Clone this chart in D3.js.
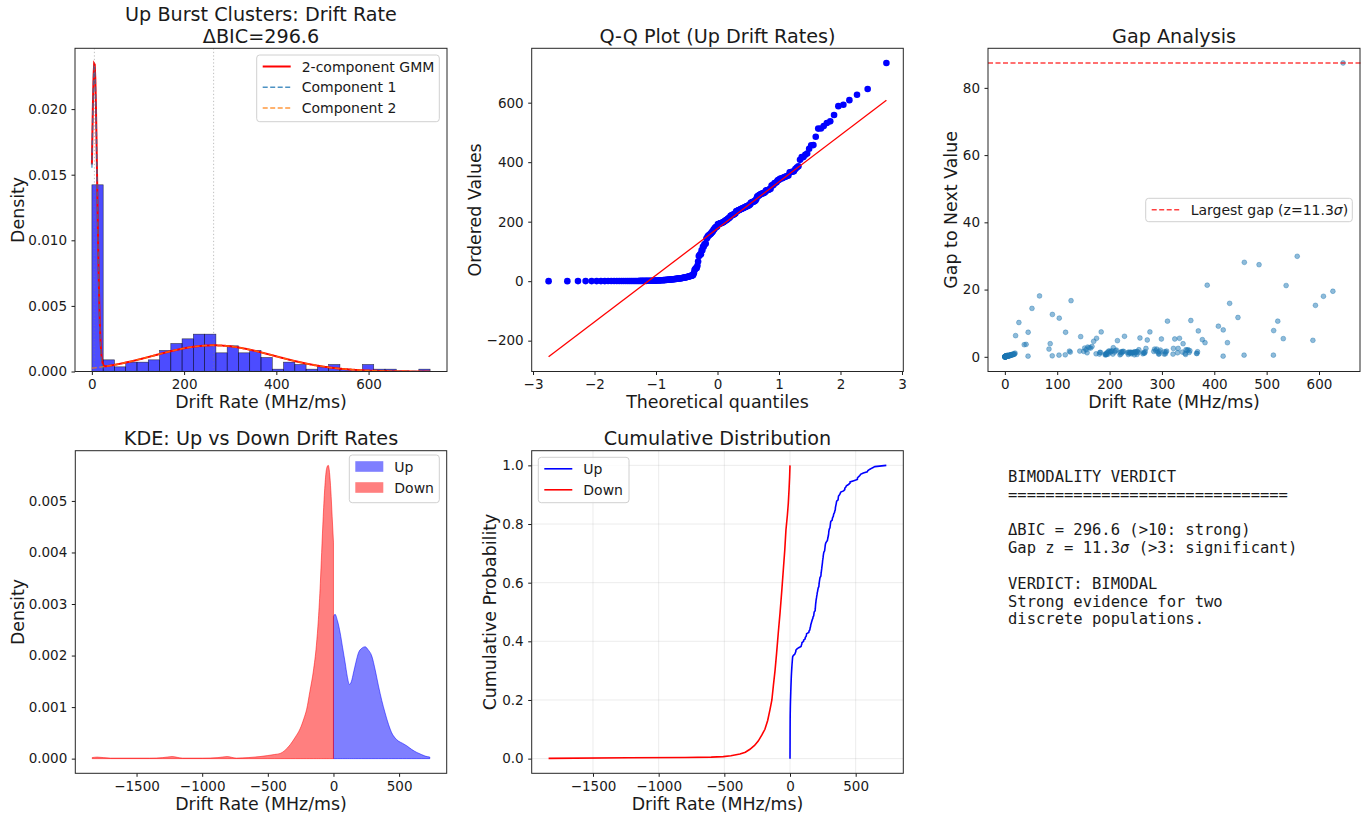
<!DOCTYPE html>
<html>
<head>
<meta charset="utf-8">
<script src="https://cdn.jsdelivr.net/npm/d3@7"></script>
<style>
  body { margin: 0; background: #fff; }
  svg { font-family: "DejaVu Sans", sans-serif; }
</style>
</head>
<body>
<svg width="1372" height="816"></svg>
<script>
// ---- data ----
// up-drift burst rates, sorted (MHz/ms)
const upDrift = [
  0.1, 0.1, 0.2, 0.2, 0.2, 0.3, 0.3, 0.3, 0.4, 0.4,
  0.4, 0.5, 0.5, 0.5, 0.6, 0.6, 0.6, 0.7, 0.7, 0.7,
  0.8, 0.8, 0.8, 0.9, 0.9, 1.0, 1.0, 1.1, 1.1, 1.2,
  1.2, 1.3, 1.4, 1.5, 1.7, 1.8, 2.0, 2.2, 2.3, 2.5,
  2.7, 2.9, 3.1, 3.4, 3.6, 3.9, 4.2, 4.6, 4.8, 5.1,
  5.5, 5.7, 6.0, 6.4, 6.7, 7.0, 7.3, 7.7, 8.0, 8.4,
  8.8, 9.1, 9.5, 9.9, 10.3, 10.8, 11.3, 11.9, 12.4, 13.0,
  13.6, 14.2, 14.9, 15.5, 16.3, 17.0, 17.8, 18.6, 19.4, 20.5,
  26.8, 37.0, 40.6, 44.3, 44.5,
  51.8, 66.2,
  84.3, 86.6, 90.5, 90.8,
  103.4, 103.9, 115.4, 116.0,
  123.3, 125.0, 126.4, 143.1, 144.8,
  150.8, 152.4, 155.0, 157.1, 158.3, 161.2, 163.9, 166.5, 169.6,
  174.2, 175.1, 180.6, 181.4, 182.7, 184.0, 191.4, 192.0, 192.9, 193.5, 194.3, 195.0,
  196.1, 197.4, 198.2, 199.9, 201.6, 203.0, 204.5, 206.3, 207.1, 209.8, 211.2, 213.0, 215.0, 219.8,
  220.4, 221.7, 222.5, 224.0, 225.3, 226.9, 228.5, 234.6, 235.8, 236.5, 237.9, 239.0, 240.2, 241.6, 242.5, 243.7,
  245.0, 246.2, 247.5, 248.1, 249.6, 250.8, 252.3, 253.0, 254.6, 255.9, 258.0, 263.6, 264.5, 265.8, 266.9, 268.0,
  269.5, 272.0, 277.0, 284.4, 286.0, 288.3, 290.1, 292.4,
  293.8, 294.6, 295.5, 297.0, 299.0, 304.3, 305.1, 306.6, 307.5, 308.9, 310.6,
  321.2, 322.0, 324.5, 329.8, 331.0, 333.5, 339.0, 340.4,
  344.3, 345.3, 346.0, 348.1, 350.0, 352.1, 353.4, 355.2, 366.0,
  367.0, 368.0, 369.5, 377.2, 382.3, 386.5,
  407.8, 416.9, 417.1, 425.1, 429.3, 445.2, 456.9, 457.4, 485.5, 512.9,
  513.4, 521.2, 531.8, 537.2, 558.4, 588.3, 593.2, 608.5, 626.5, 646.0, 733.4
];
const histBinCount = 30;

// 2-component GMM fit
const gmmWeights = [0.35, 0.65];
const gmmMeans = [5.5, 264];
const gmmSds = [6.0, 130];

// Q-Q reference line [slope, intercept]
const qqLine = [157, 177];

// KDE curves [drift, density]
const kdeUp = [
  [0, 0.00276], [12, 0.0028], [30, 0.00268], [51, 0.00244], [70, 0.00215], [89, 0.00186],
  [105, 0.0016], [122, 0.00144], [137, 0.0015], [152, 0.00166], [170, 0.00186], [190, 0.00205],
  [215, 0.00214], [241, 0.00217], [265, 0.00211], [292, 0.00199], [318, 0.00172], [343, 0.00141],
  [368, 0.00113], [393, 0.00089], [420, 0.00066], [444, 0.0005], [470, 0.0004], [495, 0.00034],
  [525, 0.0003], [558, 0.00025], [595, 0.00018], [635, 0.00012], [670, 0.00008], [698, 0.00005], [734, 0.00003]
];
const kdeDown = [
  [-1838, 0.00002], [-1800, 0.00003], [-1700, 0.00001], [-1400, 0.00001], [-1300, 0.00002],
  [-1230, 0.00004], [-1150, 0.00001], [-1000, 0.00001], [-880, 0.00002], [-810, 0.00004],
  [-740, 0.00001], [-650, 0.00002], [-560, 0.00004], [-500, 0.00006], [-450, 0.00008],
  [-406, 0.0001], [-370, 0.00016], [-330, 0.00027], [-290, 0.00042], [-254, 0.00058],
  [-225, 0.00078], [-204, 0.00096], [-180, 0.0013], [-153, 0.0017], [-130, 0.0022],
  [-115, 0.0027], [-100, 0.0034], [-90, 0.004], [-78, 0.0047], [-65, 0.0053],
  [-52, 0.00563], [-40, 0.00569], [-30, 0.00555], [-20, 0.0052], [-10, 0.0047], [0, 0.0042]
];

// down-drift empirical CDF [drift, probability]
const cdfDown = [
  [-1838, 0.001], [-1230, 0.003], [-800, 0.004], [-600, 0.005], [-508, 0.007], [-450, 0.01],
  [-381, 0.016], [-340, 0.022], [-305, 0.032], [-270, 0.045], [-242, 0.06], [-215, 0.08],
  [-191, 0.1], [-170, 0.13], [-152, 0.168], [-138, 0.2], [-127, 0.247], [-114, 0.3],
  [-102, 0.36], [-89, 0.43], [-76, 0.496], [-63, 0.57], [-51, 0.643], [-40, 0.71],
  [-31, 0.779], [-20, 0.83], [-13, 0.87], [-7, 0.92], [-3, 0.96], [0, 1.0]
];

const verdictLines = [
  "BIMODALITY VERDICT",
  "==============================",
  "",
  "ΔBIC = 296.6 (>10: strong)",
  "Gap z = 11.3σ (>3: significant)",
  "",
  "VERDICT: BIMODAL",
  "Strong evidence for two",
  "discrete populations."
];

// ---- helpers ----
const svg = d3.select("svg");
svg.append("rect").attr("width", 1372).attr("height", 816).attr("fill", "#fff");
const ink = "#1a1a1a";
let clipCount = 0;

function pad(lo, hi) { const m = (hi - lo) * 0.05; return [lo - m, hi + m]; }

// inverse normal cdf (Acklam)
function probit(p) {
  const a = [-39.69683028665376, 220.9460984245205, -275.9285104469687, 138.357751867269, -30.66479806614716, 2.506628277459239];
  const b = [-54.47609879822406, 161.5858368580409, -155.6989798598866, 66.80131188771972, -13.28068155288572];
  const c = [-0.007784894002430293, -0.3223964580411365, -2.400758277161838, -2.549732539343734, 4.374664141464968, 2.938163982698783];
  const d = [0.007784695709041462, 0.3224671290700398, 2.445134137142996, 3.754408661907416];
  const pl = 0.02425;
  if (p < pl) {
    const q = Math.sqrt(-2 * Math.log(p));
    return (((((c[0]*q+c[1])*q+c[2])*q+c[3])*q+c[4])*q+c[5]) / ((((d[0]*q+d[1])*q+d[2])*q+d[3])*q+1);
  }
  if (p > 1 - pl) {
    const q = Math.sqrt(-2 * Math.log(1 - p));
    return -(((((c[0]*q+c[1])*q+c[2])*q+c[3])*q+c[4])*q+c[5]) / ((((d[0]*q+d[1])*q+d[2])*q+d[3])*q+1);
  }
  const q = p - 0.5, r = q * q;
  return (((((a[0]*r+a[1])*r+a[2])*r+a[3])*r+a[4])*r+a[5])*q / (((((b[0]*r+b[1])*r+b[2])*r+b[3])*r+b[4])*r+1);
}

function normPdf(x, m, s) { return Math.exp(-0.5 * ((x - m) / s) ** 2) / (s * Math.sqrt(2 * Math.PI)); }

function makePanel(box, xd, yd) {
  const x = d3.scaleLinear().domain(xd).range([box.l, box.r]);
  const y = d3.scaleLinear().domain(yd).range([box.b, box.t]);
  const id = "clip" + (clipCount++);
  svg.append("clipPath").attr("id", id).append("rect")
    .attr("x", box.l).attr("y", box.t).attr("width", box.r - box.l).attr("height", box.b - box.t);
  const g = svg.append("g");
  const plot = g.append("g").attr("clip-path", `url(#${id})`);
  return { g, plot, x, y, box };
}

function addAxes(p, xTicks, xFmt, yTicks, yFmt) {
  const { g, x, y, box } = p;
  const style = a => {
    a.select(".domain").remove();
    a.attr("font-size", 13.5).attr("font-family", "DejaVu Sans");
    a.selectAll("line").attr("stroke", ink);
    a.selectAll("text").attr("fill", ink);
  };
  g.append("g").attr("transform", `translate(0,${box.b})`)
    .call(d3.axisBottom(x).tickValues(xTicks).tickFormat(xFmt).tickSize(3.5).tickPadding(4.5)).call(style);
  g.append("g").attr("transform", `translate(${box.l},0)`)
    .call(d3.axisLeft(y).tickValues(yTicks).tickFormat(yFmt).tickSize(3.5).tickPadding(4.5)).call(style);
  g.append("rect").attr("x", box.l).attr("y", box.t)
    .attr("width", box.r - box.l).attr("height", box.b - box.t)
    .attr("fill", "none").attr("stroke", "#262626").attr("stroke-width", 1);
}

function labels(p, title, xLabel, yLabel, yLabelX) {
  const { g, box } = p;
  const cx = (box.l + box.r) / 2;
  const lines = Array.isArray(title) ? title : [title];
  lines.forEach((t, i) => {
    g.append("text").attr("x", cx).attr("y", box.t - 5.6 - (lines.length - 1 - i) * 21.5)
      .attr("text-anchor", "middle").attr("font-size", 19.2).attr("fill", ink).text(t);
  });
  g.append("text").attr("x", cx).attr("y", box.b + 36.5)
    .attr("text-anchor", "middle").attr("font-size", 17.4).attr("fill", ink).text(xLabel);
  g.append("text").attr("transform", `translate(${yLabelX},${(box.t + box.b) / 2}) rotate(-90)`)
    .attr("text-anchor", "middle").attr("font-size", 17.4).attr("fill", ink).text(yLabel);
}

function legend(g, bx, by, bw, bh, items, rowH) {
  const lg = g.append("g");
  lg.append("rect").attr("x", bx).attr("y", by).attr("width", bw).attr("height", bh)
    .attr("rx", 3).attr("fill", "#fff").attr("fill-opacity", 0.8)
    .attr("stroke", "#d0d0d0").attr("stroke-width", 1);
  items.forEach((it, i) => {
    const cy = by + 11.5 + i * rowH;
    if (it.patch) {
      lg.append("rect").attr("x", bx + 6).attr("y", cy - 5.3).attr("width", 28).attr("height", 10.6)
        .attr("fill", it.color).attr("fill-opacity", 0.5);
    } else {
      lg.append("line").attr("x1", bx + 6).attr("x2", bx + 34).attr("y1", cy).attr("y2", cy)
        .attr("stroke", it.color).attr("stroke-width", it.width || 1.5)
        .attr("stroke-dasharray", it.dash || null).attr("stroke-opacity", it.opacity || 1);
    }
    const t = lg.append("text").attr("x", bx + 45).attr("y", cy + 5).attr("font-size", 14).attr("fill", ink);
    it.label.split("σ").forEach((part, k) => {
      if (k > 0) t.append("tspan").attr("font-style", "italic").text("σ");
      t.append("tspan").text(part);
    });
  });
}

const fmt3 = d3.format(".3f"), fmt1 = d3.format(".1f"), fmt0 = d3.format("d");
const n = upDrift.length;
const upMin = d3.min(upDrift), upMax = d3.max(upDrift);

// ---- panel 1: histogram + GMM ----
{
  const width = (upMax - upMin) / histBinCount;
  const bins = d3.bin().domain([upMin, upMax])
    .thresholds(d3.range(1, histBinCount).map(k => upMin + k * width))(upDrift);
  const xs = d3.range(0, 601).map(i => upMin + i * (upMax - upMin) / 600);
  const comps = gmmWeights.map((w, k) => xs.map(v => [v, w * normPdf(v, gmmMeans[k], gmmSds[k])]));
  const total = xs.map((v, i) => [v, comps[0][i][1] + comps[1][i][1]]);
  const dens = b => b.length / (n * width);
  const yMax = Math.max(d3.max(bins, dens), d3.max(total, d => d[1]));
  const p = makePanel({ l: 75, t: 48.3, r: 447, b: 371.5 }, pad(upMin, upMax), [0, yMax * 1.05]);

  p.plot.selectAll("rect.bar").data(bins).join("rect").attr("class", "bar")
    .attr("x", d => p.x(d.x0)).attr("width", d => p.x(d.x1) - p.x(d.x0))
    .attr("y", d => p.y(dens(d))).attr("height", d => p.y(0) - p.y(dens(d)))
    .attr("fill", "#0000ff").attr("fill-opacity", 0.7)
    .attr("stroke", "#000").attr("stroke-opacity", 0.7).attr("stroke-width", 0.6);

  const line = d3.line().x(d => p.x(d[0])).y(d => p.y(d[1]));
  p.plot.append("path").attr("d", line(total)).attr("fill", "none").attr("stroke", "#ff0000").attr("stroke-width", 2);
  p.plot.append("path").attr("d", line(comps[0])).attr("fill", "none").attr("stroke", "#1f77b4")
    .attr("stroke-width", 1.5).attr("stroke-dasharray", "5,2.5").attr("stroke-opacity", 0.7);
  p.plot.append("path").attr("d", line(comps[1])).attr("fill", "none").attr("stroke", "#ff7f0e")
    .attr("stroke-width", 1.5).attr("stroke-dasharray", "5,2.5").attr("stroke-opacity", 0.7);
  gmmMeans.forEach(m => {
    p.plot.append("line").attr("x1", p.x(m)).attr("x2", p.x(m)).attr("y1", p.box.t).attr("y2", p.box.b)
      .attr("stroke", "gray").attr("stroke-opacity", 0.5).attr("stroke-dasharray", "1.3,2.2");
  });

  addAxes(p, [0, 200, 400, 600], fmt0, [0, 0.005, 0.01, 0.015, 0.02], fmt3);
  labels(p, ["Up Burst Clusters: Drift Rate", "ΔBIC=296.6"], "Drift Rate (MHz/ms)", "Density", 23.7);
  legend(p.g, 256.7, 55, 182.6, 66.7, [
    { color: "#ff0000", width: 2, label: "2-component GMM" },
    { color: "#1f77b4", dash: "5,2.5", opacity: 0.8, label: "Component 1" },
    { color: "#ff7f0e", dash: "5,2.5", opacity: 0.8, label: "Component 2" }
  ], 20.8);
}

// ---- panel 2: Q-Q plot ----
{
  const theo = upDrift.map((v, i) => {
    let m;
    if (i === n - 1) m = Math.pow(0.5, 1 / n);
    else if (i === 0) m = 1 - Math.pow(0.5, 1 / n);
    else m = (i + 1 - 0.3175) / (n + 0.365);
    return probit(m);
  });
  const qLo = d3.min(theo), qHi = d3.max(theo);
  const fitY = q => qqLine[0] * q + qqLine[1];
  const p = makePanel({ l: 531.7, t: 48.3, r: 903.3, b: 371.5 }, pad(qLo, qHi),
    pad(Math.min(upMin, fitY(qLo)), Math.max(upMax, fitY(qHi))));
  p.plot.selectAll("circle").data(upDrift).join("circle")
    .attr("cx", (d, i) => p.x(theo[i])).attr("cy", d => p.y(d)).attr("r", 3.3).attr("fill", "#0000ff");
  p.plot.append("line").attr("x1", p.x(qLo)).attr("y1", p.y(fitY(qLo)))
    .attr("x2", p.x(qHi)).attr("y2", p.y(fitY(qHi))).attr("stroke", "#ff0000").attr("stroke-width", 1.3);
  addAxes(p, [-3, -2, -1, 0, 1, 2, 3], fmt0, [-200, 0, 200, 400, 600], fmt0);
  labels(p, "Q-Q Plot (Up Drift Rates)", "Theoretical quantiles", "Ordered Values", 480.7);
}

// ---- panel 3: gap analysis ----
{
  const gaps = d3.pairs(upDrift).map(([a, b]) => [a, b - a]);
  const maxGap = d3.max(gaps, d => d[1]);
  const p = makePanel({ l: 988, t: 48.3, r: 1360, b: 371.5 },
    pad(d3.min(gaps, d => d[0]), d3.max(gaps, d => d[0])), pad(0, maxGap));
  p.plot.selectAll("circle").data(gaps).join("circle")
    .attr("cx", d => p.x(d[0])).attr("cy", d => p.y(d[1])).attr("r", 2.4)
    .attr("fill", "#1f77b4").attr("fill-opacity", 0.5)
    .attr("stroke", "#1f77b4").attr("stroke-opacity", 0.5).attr("stroke-width", 0.8);
  p.g.append("line").attr("x1", p.box.l).attr("x2", p.box.r + 3)
    .attr("y1", p.y(maxGap)).attr("y2", p.y(maxGap))
    .attr("stroke", "#ff0000").attr("stroke-opacity", 0.75).attr("stroke-width", 1.5).attr("stroke-dasharray", "5,2.5");
  addAxes(p, d3.range(0, 700, 100), fmt0, [0, 20, 40, 60, 80], fmt0);
  labels(p, "Gap Analysis", "Drift Rate (MHz/ms)", "Gap to Next Value", 956.7);
  legend(p.g, 1145.7, 198.3, 206.6, 23.4, [
    { color: "#ff0000", dash: "5,2.5", opacity: 0.75, label: "Largest gap (z=11.3σ)" }
  ], 0);
}

// shared x range for the up/down panels
const allLo = Math.min(d3.min(kdeDown, d => d[0]), d3.min(cdfDown, d => d[0]));
const allHi = Math.max(d3.max(kdeUp, d => d[0]), upMax);
const udTicks = [-1500, -1000, -500, 0, 500];

// ---- panel 4: KDE ----
{
  const yHi = Math.max(d3.max(kdeUp, d => d[1]), d3.max(kdeDown, d => d[1]));
  const p = makePanel({ l: 75.3, t: 450.7, r: 446.7, b: 773.3 }, pad(allLo, allHi), pad(0, yHi));
  const area = d3.area().x(d => p.x(d[0])).y0(p.y(0)).y1(d => p.y(d[1])).curve(d3.curveMonotoneX);
  [[kdeUp, "#0000ff"], [kdeDown, "#ff0000"]].forEach(([data, col]) => {
    p.plot.append("path").attr("d", area(data)).attr("fill", col).attr("fill-opacity", 0.5)
      .attr("stroke", col).attr("stroke-opacity", 0.5).attr("stroke-width", 1);
  });
  addAxes(p, udTicks, fmt0, [0, 0.001, 0.002, 0.003, 0.004, 0.005], fmt3);
  labels(p, "KDE: Up vs Down Drift Rates", "Drift Rate (MHz/ms)", "Density", 23.7);
  legend(p.g, 349.3, 455, 90, 47.7, [
    { patch: true, color: "#0000ff", label: "Up" },
    { patch: true, color: "#ff0000", label: "Down" }
  ], 21);
}

// ---- panel 5: cumulative distribution ----
{
  const p = makePanel({ l: 531.7, t: 450.7, r: 903.3, b: 773.3 }, pad(allLo, allHi), pad(0, 1));
  const yTicks = [0, 0.2, 0.4, 0.6, 0.8, 1.0];
  p.plot.selectAll("line.gx").data(udTicks).join("line").attr("class", "gx")
    .attr("x1", d => p.x(d)).attr("x2", d => p.x(d)).attr("y1", p.box.t).attr("y2", p.box.b)
    .attr("stroke", "#b0b0b0").attr("stroke-opacity", 0.3).attr("stroke-width", 0.8);
  p.plot.selectAll("line.gy").data(yTicks).join("line").attr("class", "gy")
    .attr("y1", d => p.y(d)).attr("y2", d => p.y(d)).attr("x1", p.box.l).attr("x2", p.box.r)
    .attr("stroke", "#b0b0b0").attr("stroke-opacity", 0.3).attr("stroke-width", 0.8);
  const line = d3.line().x(d => p.x(d[0])).y(d => p.y(d[1]));
  const cdfUp = [[upMin, 0]].concat(upDrift.map((v, i) => [v, (i + 1) / n]));
  p.plot.append("path").attr("d", line(cdfUp)).attr("fill", "none").attr("stroke", "#0000ff").attr("stroke-width", 1.6);
  p.plot.append("path").attr("d", line(cdfDown)).attr("fill", "none").attr("stroke", "#ff0000").attr("stroke-width", 1.6);
  addAxes(p, udTicks, fmt0, yTicks, fmt1);
  labels(p, "Cumulative Distribution", "Drift Rate (MHz/ms)", "Cumulative Probability", 496.2);
  legend(p.g, 538.3, 457.3, 90.7, 45.4, [
    { color: "#0000ff", width: 1.6, label: "Up" },
    { color: "#ff0000", width: 1.6, label: "Down" }
  ], 21);
}

// ---- panel 6: verdict text ----
{
  const t = svg.append("g").attr("font-family", "DejaVu Sans Mono").attr("font-size", 15.5).attr("fill", ink);
  verdictLines.forEach((s, i) => {
    const tx = t.append("text").attr("x", 1008).attr("y", 482 + i * 17.8).attr("xml:space", "preserve");
    s.split("σ").forEach((part, k) => {
      if (k > 0) tx.append("tspan").attr("font-style", "italic").text("σ");
      tx.append("tspan").text(part);
    });
  });
}
</script>
</body>
</html>
